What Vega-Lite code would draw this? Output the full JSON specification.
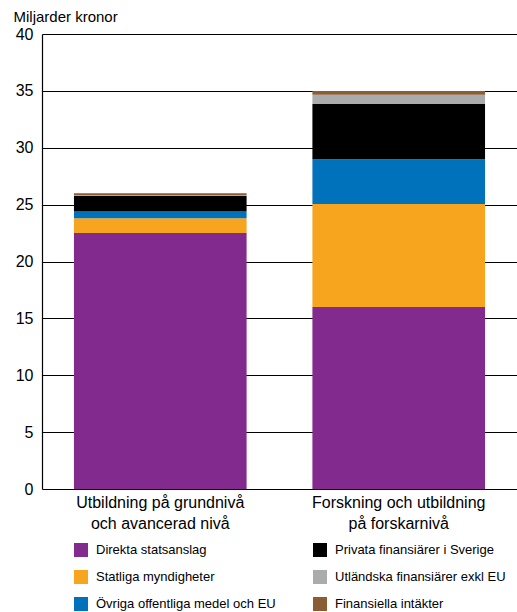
{
  "$schema": "https://vega.github.io/schema/vega-lite/v6.json",
  "width": 475,
  "height": 455,
  "autosize": "none",
  "padding": {"left": 42, "top": 34, "right": 0, "bottom": 123},
  "background": "white",
  "config": {
    "view": {"stroke": null},
    "font": "Liberation Sans"
  },
  "data": {
    "values": [
      {"cat": "Utbildning på grundnivå och avancerad nivå", "source": "Direkta statsanslag", "ord": 1, "value": 22.5},
      {"cat": "Utbildning på grundnivå och avancerad nivå", "source": "Statliga myndigheter", "ord": 2, "value": 1.3},
      {"cat": "Utbildning på grundnivå och avancerad nivå", "source": "Övriga offentliga medel och EU", "ord": 3, "value": 0.6},
      {"cat": "Utbildning på grundnivå och avancerad nivå", "source": "Privata finansiärer i Sverige", "ord": 4, "value": 1.35},
      {"cat": "Utbildning på grundnivå och avancerad nivå", "source": "Utländska finansiärer exkl EU", "ord": 5, "value": 0.1},
      {"cat": "Utbildning på grundnivå och avancerad nivå", "source": "Finansiella intäkter", "ord": 6, "value": 0.15},
      {"cat": "Forskning och utbildning på forskarnivå", "source": "Direkta statsanslag", "ord": 1, "value": 16.0},
      {"cat": "Forskning och utbildning på forskarnivå", "source": "Statliga myndigheter", "ord": 2, "value": 9.05},
      {"cat": "Forskning och utbildning på forskarnivå", "source": "Övriga offentliga medel och EU", "ord": 3, "value": 3.95},
      {"cat": "Forskning och utbildning på forskarnivå", "source": "Privata finansiärer i Sverige", "ord": 4, "value": 4.85},
      {"cat": "Forskning och utbildning på forskarnivå", "source": "Utländska finansiärer exkl EU", "ord": 5, "value": 0.8},
      {"cat": "Forskning och utbildning på forskarnivå", "source": "Finansiella intäkter", "ord": 6, "value": 0.35}
    ]
  },
  "mark": {"type": "bar", "stroke": null},
  "encoding": {
    "x": {
      "field": "cat",
      "type": "nominal",
      "sort": ["Utbildning på grundnivå och avancerad nivå", "Forskning och utbildning på forskarnivå"],
      "scale": {"paddingInner": 0.276, "paddingOuter": 0.134},
      "axis": {
        "title": null,
        "labelAngle": 0,
        "ticks": false,
        "domain": false,
        "labelPadding": 5,
        "labelFontSize": 16,
        "labelColor": "#000",
        "labelLineHeight": 21,
        "labelLimit": 300,
        "labelExpr": "datum.value == 'Utbildning på grundnivå och avancerad nivå' ? ['Utbildning på grundnivå', 'och avancerad nivå'] : ['Forskning och utbildning', 'på forskarnivå']"
      }
    },
    "y": {
      "field": "value",
      "type": "quantitative",
      "aggregate": "sum",
      "stack": "zero",
      "scale": {"domain": [0, 40], "nice": false},
      "axis": {
        "values": [0, 5, 10, 15, 20, 25, 30, 35, 40],
        "title": "Miljarder kronor",
        "titleAngle": 0,
        "titleAlign": "left",
        "titleBaseline": "alphabetic",
        "titleX": -29,
        "titleY": -13,
        "titleFontSize": 15,
        "titleFontWeight": "normal",
        "titleColor": "#000",
        "ticks": false,
        "domain": true,
        "domainColor": "#000",
        "domainWidth": 1.2,
        "grid": true,
        "gridColor": "#000",
        "gridWidth": 1.2,
        "gridOpacity": 1,
        "labelFontSize": 16,
        "labelColor": "#000",
        "labelPadding": 9
      }
    },
    "color": {
      "field": "source",
      "type": "nominal",
      "scale": {
        "domain": ["Direkta statsanslag", "Privata finansiärer i Sverige", "Statliga myndigheter", "Utländska finansiärer exkl EU", "Övriga offentliga medel och EU", "Finansiella intäkter"],
        "range": ["#832a8f", "#000000", "#f7a51e", "#a9abad", "#0072bb", "#8b5d35"]
      },
      "legend": {
        "title": null,
        "orient": "none",
        "legendX": 32,
        "legendY": 509,
        "columns": 2,
        "direction": "horizontal",
        "columnPadding": 37,
        "rowPadding": 13,
        "padding": 0,
        "symbolType": "square",
        "symbolSize": 196,
        "symbolStrokeWidth": 0,
        "symbolOpacity": 1,
        "labelFontSize": 13,
        "labelColor": "#000",
        "labelOffset": 8,
        "labelLimit": 300,
        "gridAlign": "each"
      }
    },
    "order": {"field": "ord", "type": "quantitative", "sort": "ascending"}
  }
}
